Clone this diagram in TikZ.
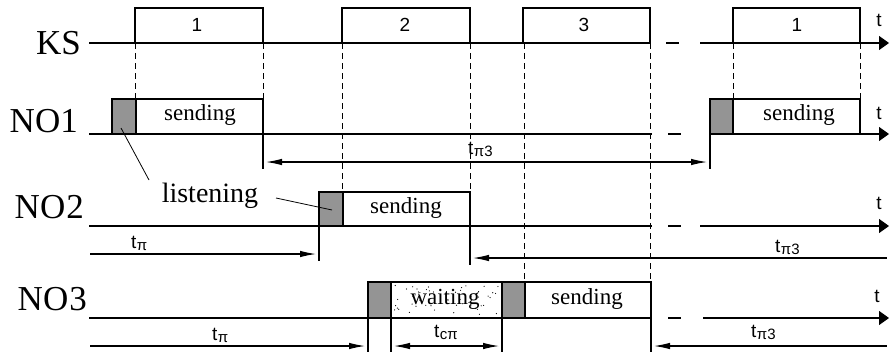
\documentclass[tikz,border=0pt]{standalone}
\usepackage{fontspec}
\setmainfont{Liberation Serif}
\newfontfamily\sansf{Liberation Sans}
\usetikzlibrary{arrows.meta}
\newcommand\subl[1]{\kern0.5pt\raisebox{-2pt}{\fontsize{15}{15}\selectfont #1}}
\begin{document}
\begin{tikzpicture}[x=1pt,y=-1pt,
  sig/.style={line width=1.2pt, line join=miter},
  guide/.style={line width=0.9pt, dash pattern=on 6pt off 4pt},
  gapline/.style={line width=1.2pt, dash pattern=on 0pt off 16pt on 13pt off 40pt},
  axis/.style={line width=1.2pt, -{Triangle[length=10pt,width=14pt]}},
  lim/.style={line width=1.1pt},
  rarr/.style={line width=1.1pt, -{Latex[length=16pt,width=6.5pt]}, shorten >=3pt},
  larr/.style={line width=1.1pt, {Latex[length=16pt,width=6.5pt]}-, shorten <=3pt},
  barr/.style={line width=1.1pt, {Latex[length=16pt,width=6.5pt]}-{Latex[length=16pt,width=6.5pt]}, shorten <=3pt, shorten >=3pt},
  listen/.style={draw, line width=1.2pt, fill=black!42},
  slot/.style={draw, line width=1.2pt, fill=white},
  big/.style={font=\fontsize{35}{35}\selectfont, inner sep=0pt},
  word/.style={font=\fontsize{23}{23}\selectfont, inner sep=0pt},
  lword/.style={font=\fontsize{28}{28}\selectfont, inner sep=0pt},
  digit/.style={font=\sansf\fontsize{19}{19}\selectfont, inner sep=0pt},
  tlab/.style={font=\sansf\fontsize{19}{19}\selectfont, inner sep=0pt},
  leader/.style={line width=0.8pt}
]
\useasboundingbox (0,0) rectangle (890,353);

% ---------- row labels ----------
\node[big, anchor=base east] (ks) at (81,55) {KS};
\node[big, anchor=base east] (no1) at (78,132) {NO1};
\node[big, anchor=base east] (no2) at (84,218) {NO\kern1pt 2};
\node[big, anchor=base east] (no3) at (87,310) {NO\kern1pt 3};

% ---------- KS axis with slots ----------
\draw[sig] (89,43) -- (650,43);
\draw[gapline] (650,43) -- (700,43);
\coordinate (ksend) at (889,43);
\draw[axis] (700,43) -- (ksend);
\draw[sig] (135,43) -- (135,8) -- (263,8) -- (263,43);
\draw[sig] (342,43) -- (342,8) -- (470,8) -- (470,43);
\draw[sig] (523,43) -- (523,8) -- (650,8) -- (650,43);
\draw[sig] (733,43) -- (733,8) -- (860,8) -- (860,43);
\node[digit] (d1) at (197,25) {1};
\node[digit] (d2) at (405,25) {2};
\node[digit] (d3) at (584,25) {3};
\node[digit] (d4) at (797,25) {1};
\node[tlab] (tks) at (879,20) {t};

% ---------- guide lines ----------
\draw[guide] (135,43) -- (135,99);
\draw[guide] (263,43) -- (263,99);
\draw[guide] (342,43) -- (342,192);
\draw[guide] (470,43) -- (470,192);
\draw[guide] (524,43) -- (524,282);
\draw[guide] (650,43) -- (650,282);
\draw[guide] (733,43) -- (733,99);
\draw[guide] (860,43) -- (860,99);

% ---------- NO1 ----------
\draw[sig] (89,134) -- (652,134);
\draw[gapline] (652,134) -- (710,134);
\coordinate (n1end) at (889,134);
\draw[axis] (710,134) -- (n1end);
\draw[listen] (112,99) rectangle (136,134);
\draw[slot] (136,99) rectangle (263,134);
\node[word] (s1) at (200,115) {sending};
\draw[listen] (710,99) rectangle (733,134);
\draw[slot] (733,99) rectangle (860,134);
\node[word] (s1b) at (799,115) {sending};
\node[tlab] (t1) at (879,113) {t};
\coordinate (a1l) at (263,162);
\coordinate (a1r) at (710,162);
\draw[lim] (263,134) -- (263,169);
\draw[lim] (710,134) -- (710,169);
\draw[barr] (a1l) -- (a1r);
\node[tlab, anchor=base west] (tpz1) at (468,154) {t\subl{π3}};

% ---------- NO2 ----------
\draw[sig] (89,226) -- (652,226);
\draw[gapline] (652,226) -- (700,226);
\coordinate (n2end) at (889,226);
\draw[axis] (700,226) -- (n2end);
\draw[listen] (319,192) rectangle (343,226);
\draw[slot] (343,192) rectangle (470,226);
\node[word] (s2) at (406,208) {sending};
\node[tlab] (t2) at (879,203) {t};
\draw[lim] (319,226) -- (319,261);
\draw[lim] (470,226) -- (470,265);
\coordinate (a2s) at (90,254);
\coordinate (a2e) at (319,254);
\draw[rarr] (a2s) -- (a2e);
\node[tlab, anchor=base west] (tp2) at (131,248) {t\subl{π}};
\coordinate (a3s) at (470,258);
\coordinate (a3e) at (887,258);
\draw[larr] (a3s) -- (a3e);
\node[tlab, anchor=base west] (tpz2) at (775,252) {t\subl{π3}};

% ---------- NO3 ----------
\draw[sig] (89,318) -- (652,318);
\draw[gapline] (652,318) -- (703,318);
\coordinate (n3end) at (889,318);
\draw[axis] (703,318) -- (n3end);
\draw[listen] (368,282) rectangle (391,318);
\draw[slot] (391,282) rectangle (502,318);
\pgfmathsetseed{11}
\foreach \i in {1,...,55} {
  \fill ({394+rnd*105},{285+rnd*30}) circle (0.6pt);
}
\node[word] (w3) at (445,299) {waiting};
\draw[listen] (502,282) rectangle (525,318);
\draw[slot] (525,282) rectangle (651,318);
\node[word] (s3) at (587,299) {sending};
\node[tlab] (t3) at (877,296) {t};
\draw[lim] (368,318) -- (368,352);
\draw[lim] (391,318) -- (391,352);
\draw[lim] (502,318) -- (502,352);
\draw[lim] (651,318) -- (651,352);
\coordinate (a4s) at (90,346);
\coordinate (a4e) at (368,346);
\draw[rarr] (a4s) -- (a4e);
\node[tlab, anchor=base west] (tp3) at (212,340) {t\subl{π}};
\coordinate (a5s) at (391,346);
\coordinate (a5e) at (502,346);
\draw[barr] (a5s) -- (a5e);
\node[tlab, anchor=base west] (tsp) at (434,337) {t\subl{cπ}};
\coordinate (a6s) at (651,346);
\coordinate (a6e) at (887,346);
\draw[larr] (a6s) -- (a6e);
\node[tlab, anchor=base west] (tpz3) at (751,337) {t\subl{π3}};

% ---------- listening ----------
\node[lword] (lst) at (210,196) {listening};
\coordinate (l1a) at (121,128);
\coordinate (l1b) at (149,180);
\draw[leader] (l1a) -- (l1b);
\coordinate (l2a) at (276,198);
\coordinate (l2b) at (332,210);
\draw[leader] (l2a) -- (l2b);
\end{tikzpicture}
\end{document}
